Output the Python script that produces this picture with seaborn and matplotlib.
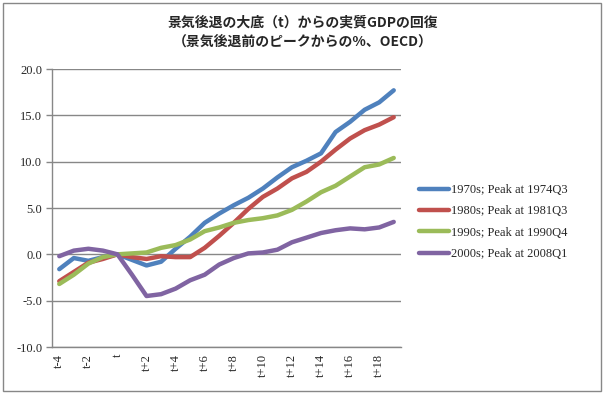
import numpy as np
import pandas as pd
import matplotlib
matplotlib.use("Agg")
import matplotlib.pyplot as plt
import matplotlib.patches as mpatches
import seaborn as sns

# quarters relative to the trough t
periods = ["t-4", "t-3", "t-2", "t-1", "t", "t+1", "t+2", "t+3", "t+4", "t+5",
           "t+6", "t+7", "t+8", "t+9", "t+10", "t+11", "t+12", "t+13", "t+14",
           "t+15", "t+16", "t+17", "t+18", "t+19"]

series_names = ["1970s; Peak at 1974Q3", "1980s; Peak at 1981Q3",
                "1990s; Peak at 1990Q4", "2000s; Peak at 2008Q1"]

gdp_1970s = [-1.6, -0.4, -0.7, -0.3, 0.0, -0.6, -1.2, -0.8, 0.6, 1.9, 3.4, 4.4,
             5.3, 6.1, 7.1, 8.3, 9.4, 10.1, 10.9, 13.2, 14.3, 15.6, 16.4, 17.7]
gdp_1980s = [-2.9, -1.9, -0.9, -0.5, 0.0, -0.3, -0.5, -0.2, -0.3, -0.3, 0.7, 2.0,
             3.4, 4.9, 6.2, 7.1, 8.2, 8.9, 10.0, 11.3, 12.5, 13.4, 14.0, 14.8]
gdp_1990s = [-3.2, -2.2, -1.0, -0.3, 0.0, 0.1, 0.2, 0.7, 1.0, 1.6, 2.5, 2.9,
             3.4, 3.7, 3.9, 4.2, 4.8, 5.7, 6.7, 7.4, 8.4, 9.4, 9.7, 10.4]
gdp_2000s = [-0.2, 0.4, 0.6, 0.4, 0.0, -2.2, -4.5, -4.3, -3.7, -2.8, -2.2, -1.1,
             -0.4, 0.1, 0.2, 0.5, 1.3, 1.8, 2.3, 2.6, 2.8, 2.7, 2.9, 3.5]

tick_labels = ["t-4", "t-2", "t", "t+2", "t+4", "t+6", "t+8", "t+10", "t+12",
               "t+14", "t+16", "t+18"]

colors = ["#4F81BD", "#C0504D", "#9BBB59", "#8064A2"]

title = "景気後退の大底（t）からの実質GDPの回復\n（景気後退前のピークからの%、OECD）"

# long-form table for seaborn
frames = []
for name, vals in zip(series_names, [gdp_1970s, gdp_1980s, gdp_1990s, gdp_2000s]):
    frames.append(pd.DataFrame({"pos": np.arange(len(periods)), "value": vals, "series": name}))
df = pd.concat(frames, ignore_index=True)

sns.set_style("white")
plt.rcParams["font.family"] = ["Liberation Serif", "DejaVu Serif"]
plt.rcParams["axes.unicode_minus"] = False

W, H = 605, 397
fig = plt.figure(figsize=(W / 100, H / 100), dpi=100)
ax = fig.add_axes([52 / W, 1 - 347 / H, (401 - 52) / W, (347 - 69) / H])

grid_col = "#878787"
sns.lineplot(data=df, x="pos", y="value", hue="series", palette=colors,
             linewidth=3.2, ax=ax, legend=True)

ax.set_xlim(-0.5, len(periods) - 0.5)
ax.set_ylim(-10, 20)
ax.set_yticks(np.arange(-10, 20.1, 5))
ax.set_yticklabels([f"{v:.1f}" for v in np.arange(-10, 20.1, 5)], fontsize=9)
ax.set_xticks(np.arange(0, len(periods), 2))
ax.set_xticklabels(tick_labels, rotation=90, fontsize=9)
ax.set_xlabel("")
ax.set_ylabel("")

ax.grid(axis="y", color=grid_col, linewidth=1)
ax.set_axisbelow(True)
for side in ["top", "right"]:
    ax.spines[side].set_visible(False)
for side in ["left", "bottom"]:
    ax.spines[side].set_color(grid_col)
    ax.spines[side].set_linewidth(1)
ax.tick_params(axis="y", direction="out", length=4, color=grid_col, width=1, pad=3, left=True)
ax.tick_params(axis="x", length=0, pad=5)

# legend on the right
handles, labels = ax.get_legend_handles_labels()
ax.legend(handles, labels, loc="center left", bbox_to_anchor=(419 / W, 1 - 222 / H),
          bbox_transform=fig.transFigure, frameon=False, fontsize=9,
          handlelength=2.4, handletextpad=0.15, labelspacing=0.75, borderpad=0,
          borderaxespad=0)

fig.text(0.5, 1 - 32 / H, title, ha="center", va="center", fontsize=10,
         fontweight="bold", family=["Noto Sans CJK JP", "DejaVu Sans"], linespacing=1.45)

# outer chart border
fig.patches.append(mpatches.Rectangle((3 / W, 1 - 391 / H), 598 / W, 388.5 / H,
                                      transform=fig.transFigure, fill=False,
                                      edgecolor=grid_col, linewidth=1))

fig.savefig("out.png", dpi=100)
